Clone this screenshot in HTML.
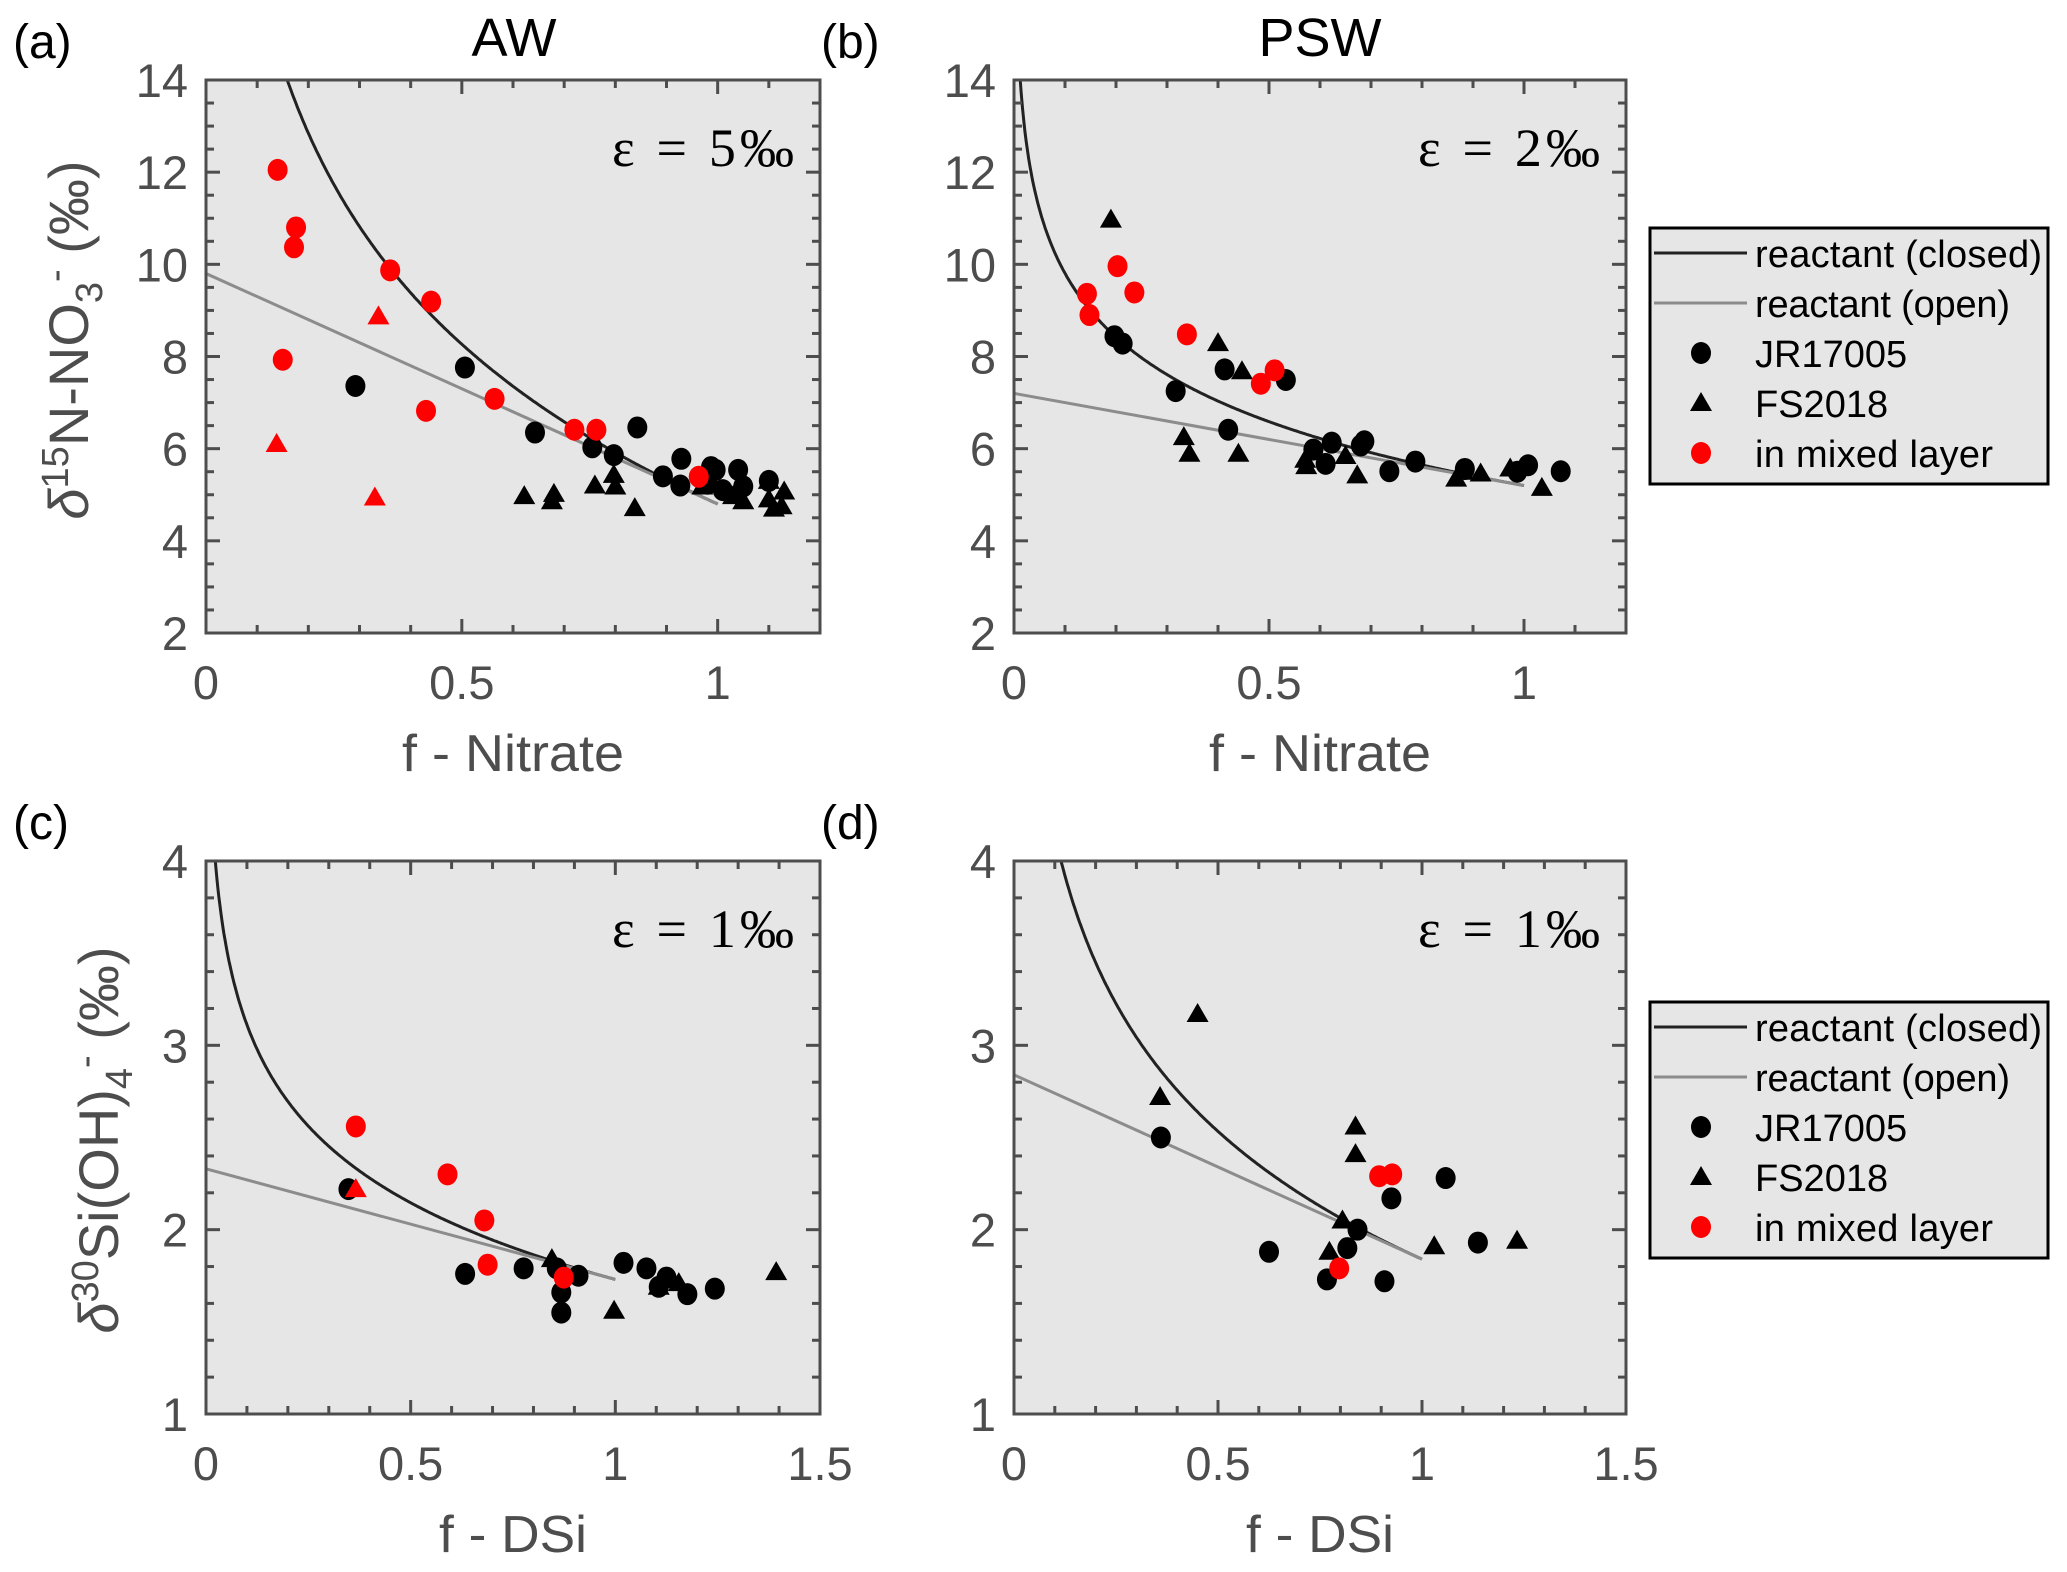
<!DOCTYPE html>
<html><head><meta charset="utf-8"><style>
html,body{margin:0;padding:0;background:#fff;}
svg{display:block;}
</style></head><body>
<svg id="fig" width="2067" height="1572" viewBox="0 0 2067 1572" xmlns="http://www.w3.org/2000/svg" font-family="Liberation Sans, Arial, sans-serif"></svg>
<script>
// ---------- Panel (a) AW nitrate ----------
const aJRx=[0.292,0.506,0.643,0.843,0.755,0.797,0.893,0.929,0.927,0.987,0.996,1.04,1.05,1.10,0.98,1.01];
const aJRy=[7.36,7.76,6.35,6.46,6.03,5.86,5.40,5.78,5.20,5.60,5.54,5.54,5.18,5.30,5.24,5.10];
const aFSx=[0.622,0.676,0.68,0.76,0.797,0.80,0.838,0.97,1.03,1.05,1.10,1.11,1.13,1.125,1.10];
const aFSy=[4.97,4.86,5.02,5.20,5.43,5.18,4.71,5.18,4.97,4.86,5.30,4.70,5.07,4.75,4.90];
const aMLx=[0.14,0.176,0.172,0.36,0.44,0.15,0.564,0.43,0.72,0.763,0.963];
const aMLy=[12.05,10.8,10.37,9.87,9.19,7.93,7.08,6.82,6.41,6.41,5.39];
const aMLTx=[0.337,0.138,0.33];
const aMLTy=[8.87,6.1,4.94];
// ---------- Panel (b) PSW nitrate ----------
const bJRx=[0.197,0.213,0.317,0.413,0.533,0.42,0.587,0.623,0.611,0.687,0.68,0.736,0.787,0.884,0.987,1.008,1.072];
const bJRy=[8.44,8.28,7.25,7.72,7.49,6.41,5.98,6.13,5.67,6.16,6.07,5.51,5.72,5.56,5.50,5.64,5.51];
const bFSx=[0.19,0.40,0.447,0.333,0.344,0.44,0.573,0.571,0.65,0.673,0.867,0.915,0.973,1.035,0.88];
const bFSy=[10.97,8.29,7.68,6.25,5.89,5.89,5.62,5.76,5.84,5.42,5.35,5.46,5.57,5.15,5.50];
const bMLx=[0.143,0.148,0.203,0.236,0.339,0.484,0.511];
const bMLy=[9.36,8.9,9.96,9.39,8.48,7.41,7.70];
const bMLTx=[]; const bMLTy=[];
// ---------- Panel (c) AW DSi ----------
const cJRx=[0.348,0.633,0.776,0.857,0.868,0.868,0.91,1.02,1.076,1.106,1.125,1.176,1.243];
const cJRy=[2.22,1.76,1.79,1.79,1.66,1.55,1.75,1.82,1.79,1.69,1.74,1.65,1.68];
const cFSx=[0.845,0.997,1.106,1.155,1.393];
const cFSy=[1.84,1.56,1.69,1.71,1.77];
const cMLx=[0.366,0.59,0.68,0.688,0.874];
const cMLy=[2.56,2.30,2.05,1.81,1.74];
const cMLTx=[0.366]; const cMLTy=[2.22];
// ---------- Panel (d) PSW DSi ----------
const dJRx=[0.36,0.625,0.817,0.842,0.767,0.908,0.925,1.058,1.137];
const dJRy=[2.50,1.88,1.90,2.00,1.73,1.72,2.17,2.28,1.93];
const dFSx=[0.45,0.358,0.837,0.837,0.805,0.773,1.03,1.233];
const dFSy=[3.17,2.72,2.56,2.41,2.05,1.88,1.91,1.94];
const dMLx=[0.797,0.895,0.927];
const dMLy=[1.79,2.29,2.30];
const dMLTx=[]; const dMLTy=[];
// model parameters: [value at f=1, closed eps, open eps]
const aModel=[4.8,5,5], bModel=[5.2,2,2], cModel=[1.73,0.6,0.6], dModel=[1.84,1,1];
const nitXTicks=[0,0.5,1], nitYTicks=[2,4,6,8,10,12,14];
const siXTicks=[0,0.5,1,1.5], siYTicks=[1,2,3,4];

const NS="http://www.w3.org/2000/svg";
const svg=document.getElementById('fig');
function el(tag,attrs,parent){const e=document.createElementNS(NS,tag);for(const k in attrs)e.setAttribute(k,attrs[k]);(parent||svg).appendChild(e);return e;}

function panel(p){
  const g=el('g',{});
  
  
  const sx=v=>p.x0+(v-p.xmin)/(p.xmax-p.xmin)*(p.x1-p.x0);
  const sy=v=>p.y1-(v-p.ymin)/(p.ymax-p.ymin)*(p.y1-p.y0);
  const bg=el('rect',{x:p.x0,y:p.y0,width:p.x1-p.x0,height:p.y1-p.y0,fill:'#e6e6e6'},g);
  
  
  const cid='clip'+p.name;
  const cp=el('clipPath',{id:cid},g); el('rect',{x:p.x0,y:p.y0,width:p.x1-p.x0,height:p.y1-p.y0},cp);
  const lines=el('g',{'clip-path':'url(#'+cid+')'},g);
  let d='';
  for(let i=0;i<=400;i++){const f=0.004+i*(1-0.004)/400;const v=p.model[0]-p.model[1]*Math.log(f);d+=(i?'L':'M')+sx(f).toFixed(1)+','+sy(v).toFixed(1);}
  const cl=el('path',{d:d,fill:'none',stroke:'#222','stroke-width':3},lines);
  
  
  const ol=el('line',{x1:sx(0),y1:sy(p.model[0]+p.model[2]),x2:sx(1),y2:sy(p.model[0]),stroke:'#8c8c8c','stroke-width':3},lines);
  
  
  const tri=(x,y,c,name)=>{const t=el('path',{d:`M${x},${y-11}L${x+11},${y+8}L${x-11},${y+8}Z`,fill:c},g);};
  const cir=(x,y,c,name)=>{const t=el('ellipse',{cx:x,cy:y,rx:10,ry:11,fill:c},g);};
  p.fsx.forEach((v,i)=>tri(sx(v),sy(p.fsy[i]),'#000','fs2018-point'));
  p.jrx.forEach((v,i)=>cir(sx(v),sy(p.jry[i]),'#000','jr17005-point'));
  p.mltx.forEach((v,i)=>tri(sx(v),sy(p.mlty[i]),'#ff0000','mixed-layer-triangle'));
  p.mlx.forEach((v,i)=>cir(sx(v),sy(p.mly[i]),'#ff0000','mixed-layer-point'));
  const ax=el('g',{stroke:'#4d4d4d','stroke-width':3},g);
  for(let v=p.xmin;v<=p.xmax+1e-9;v+=p.xminor){const X=sx(v);const major=Math.abs(v/p.xmajor-Math.round(v/p.xmajor))<1e-6;const L=major?14:8;
    el('line',{x1:X,y1:p.y1,x2:X,y2:p.y1-L},ax);el('line',{x1:X,y1:p.y0,x2:X,y2:p.y0+L},ax);}
  for(let v=p.ymin;v<=p.ymax+1e-9;v+=p.yminor){const Y=sy(v);const major=Math.abs(v/p.ymajor-Math.round(v/p.ymajor))<1e-6;const L=major?14:8;
    el('line',{x1:p.x0,y1:Y,x2:p.x0+L,y2:Y},ax);el('line',{x1:p.x1,y1:Y,x2:p.x1-L,y2:Y},ax);}
  const fr=el('rect',{x:p.x0,y:p.y0,width:p.x1-p.x0,height:p.y1-p.y0,fill:'none',stroke:'#4d4d4d','stroke-width':3},g);
  
  
  p.xt.forEach(v=>{const t=el('text',{x:sx(v),y:p.y1+66,'font-size':47,fill:'#4d4d4d','text-anchor':'middle'},g);t.textContent=String(v);});
  p.yt.forEach(v=>{const t=el('text',{x:p.x0-18,y:sy(v)+17,'font-size':47,fill:'#4d4d4d','text-anchor':'end'},g);t.textContent=String(v);});
  const xl=el('text',{x:(p.x0+p.x1)/2,y:p.y1+138,'font-size':52,fill:'#4d4d4d','text-anchor':'middle',textLength:p.xlw,lengthAdjust:'spacingAndGlyphs'},g);
  xl.textContent=p.xlabel;
  
  
  const eps=el('text',{x:p.x1-26,y:p.y0+86,'font-size':54,fill:'#000','text-anchor':'end','font-family':'Liberation Serif, serif',textLength:182,lengthAdjust:'spacing'},g);
  eps.textContent=p.eps;
  
  
  const lab=el('text',{x:p.x0-193,y:p.y0-22,'font-size':48,fill:'#000'},g);
  lab.textContent=p.label;
  
  
  return {sx,sy};
}

panel({name:'panel-a',x0:206,x1:820,y0:80,y1:633,xmin:0,xmax:1.2,ymin:2,ymax:14,xminor:0.1,xmajor:0.5,yminor:0.5,ymajor:2,xt:nitXTicks,yt:nitYTicks,jrx:aJRx,jry:aJRy,fsx:aFSx,fsy:aFSy,mlx:aMLx,mly:aMLy,mltx:aMLTx,mlty:aMLTy,model:aModel,xlabel:'f - Nitrate',xlw:222,eps:'ε  = 5‰',label:'(a)'});
panel({name:'panel-b',x0:1014,x1:1626,y0:80,y1:633,xmin:0,xmax:1.2,ymin:2,ymax:14,xminor:0.1,xmajor:0.5,yminor:0.5,ymajor:2,xt:nitXTicks,yt:nitYTicks,jrx:bJRx,jry:bJRy,fsx:bFSx,fsy:bFSy,mlx:bMLx,mly:bMLy,mltx:bMLTx,mlty:bMLTy,model:bModel,xlabel:'f - Nitrate',xlw:222,eps:'ε  = 2‰',label:'(b)'});
panel({name:'panel-c',x0:206,x1:820,y0:861,y1:1414,xmin:0,xmax:1.5,ymin:1,ymax:4,xminor:0.1,xmajor:0.5,yminor:0.2,ymajor:1,xt:siXTicks,yt:siYTicks,jrx:cJRx,jry:cJRy,fsx:cFSx,fsy:cFSy,mlx:cMLx,mly:cMLy,mltx:cMLTx,mlty:cMLTy,model:cModel,xlabel:'f - DSi',xlw:148,eps:'ε  = 1‰',label:'(c)'});
panel({name:'panel-d',x0:1014,x1:1626,y0:861,y1:1414,xmin:0,xmax:1.5,ymin:1,ymax:4,xminor:0.1,xmajor:0.5,yminor:0.2,ymajor:1,xt:siXTicks,yt:siYTicks,jrx:dJRx,jry:dJRy,fsx:dFSx,fsy:dFSy,mlx:dMLx,mly:dMLy,mltx:dMLTx,mlty:dMLTy,model:dModel,xlabel:'f - DSi',xlw:148,eps:'ε  = 1‰',label:'(d)'});

const t1=el('text',{x:514,y:56,'font-size':54,fill:'#000','text-anchor':'middle'});t1.textContent='AW';


const t2=el('text',{x:1320,y:56,'font-size':54,fill:'#000','text-anchor':'middle'});t2.textContent='PSW';



const y1=el('text',{transform:'translate(88,340) rotate(-90)','font-size':56,fill:'#4d4d4d','text-anchor':'middle'});
y1.innerHTML='<tspan font-style="italic">δ</tspan><tspan dy="-20" font-size="38">15</tspan><tspan dy="20">N-NO</tspan><tspan dy="14" font-size="38">3</tspan><tspan dy="-34" font-size="38">-</tspan><tspan dy="20"> (‰)</tspan>';


const y2=el('text',{transform:'translate(118,1140) rotate(-90)','font-size':56,fill:'#4d4d4d','text-anchor':'middle'});
y2.innerHTML='<tspan font-style="italic">δ</tspan><tspan dy="-20" font-size="38">30</tspan><tspan dy="20">Si(OH)</tspan><tspan dy="14" font-size="38">4</tspan><tspan dy="-34" font-size="38">-</tspan><tspan dy="20"> (‰)</tspan>';



function legend(y0){
  const g=el('g',{});
  
  
  el('rect',{x:1650,y:y0,width:398,height:256,fill:'#e6e6e6',stroke:'#000','stroke-width':3},g);
  const rows=[['reactant (closed)','line','#222',287],['reactant (open)','line','#8c8c8c',255],['JR17005','circle','#000',0],['FS2018','tri','#000',0],['in mixed layer','circle','#ff0000',238]];
  const ys=[25,75,125,175,225];
  rows.forEach((r,i)=>{const y=y0+ys[i];
    const e=el('g',{},g);
    
    
    if(r[1]==='line')el('line',{x1:1654,x2:1747,y1:y,y2:y,stroke:r[2],'stroke-width':3},e);
    else if(r[1]==='circle')el('ellipse',{cx:1701,cy:y,rx:10,ry:11,fill:r[2]},e);
    else el('path',{d:`M1701,${y-11}L1712,${y+8}L1690,${y+8}Z`,fill:r[2]},e);
    const t=el('text',{x:1755,y:y+14,'font-size':38,fill:'#000'},e);t.textContent=r[0];
    if(r[3])t.setAttribute('textLength',r[3]);
  });
}
legend(228);
legend(1002);
</script>
</body></html>
